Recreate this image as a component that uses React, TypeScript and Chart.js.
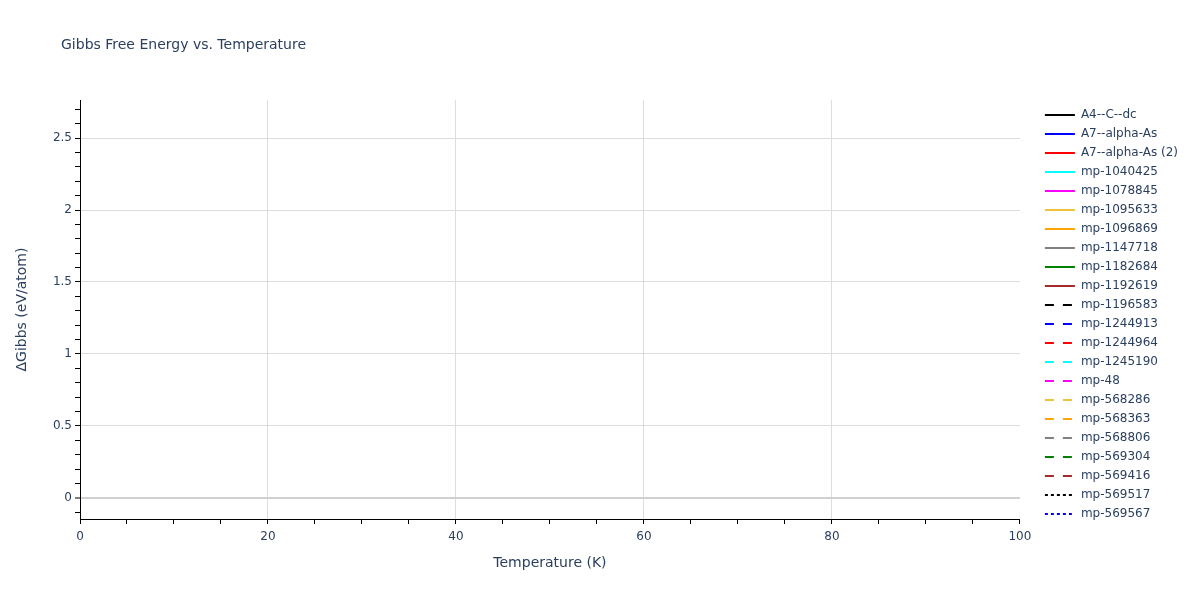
import { useEffect, useRef } from "react"
import { Chart, registerables, type ChartConfiguration, type Plugin } from "chart.js"

Chart.register(...registerables)

const FONT = '"DejaVu Sans", Verdana, sans-serif'
const TEXT = "#2a3f5f"

const chartTitle = "Gibbs Free Energy vs. Temperature"
const xTitle = "Temperature (K)"
const yTitle = "ΔGibbs (eV/atom)"

const seriesNames = [
  "A4--C--dc",
  "A7--alpha-As",
  "A7--alpha-As (2)",
  "mp-1040425",
  "mp-1078845",
  "mp-1095633",
  "mp-1096869",
  "mp-1147718",
  "mp-1182684",
  "mp-1192619",
  "mp-1196583",
  "mp-1244913",
  "mp-1244964",
  "mp-1245190",
  "mp-48",
  "mp-568286",
  "mp-568363",
  "mp-568806",
  "mp-569304",
  "mp-569416",
  "mp-569517",
  "mp-569567",
]

const seriesColors = [
  "#000000", "#0000ff", "#ff0000", "#00ffff", "#ff00ff", "#eec33a", "#ffa500", "#808080", "#008000", "#a52a2a",
  "#000000", "#0000ff", "#ff0000", "#00ffff", "#ff00ff", "#eec33a", "#ffa500", "#808080", "#008000", "#a52a2a",
  "#000000", "#0000ff",
]

const seriesStyles = [
  "solid", "solid", "solid", "solid", "solid", "solid", "solid", "solid", "solid", "solid",
  "dash", "dash", "dash", "dash", "dash", "dash", "dash", "dash", "dash", "dash",
  "dot", "dot",
]

// no points fall inside the visible window of the reference
const seriesPoints: { x: number; y: number }[][] = seriesNames.map(() => [])

const dashes: Record<string, number[]> = { solid: [], dash: [9, 9], dot: [3, 3] }

const isMultiple = (v: number, step: number) => Math.abs(v / step - Math.round(v / step)) < 1e-6

const titlePlugin: Plugin = {
  id: "plotTitle",
  afterDraw(chart) {
    const ctx = chart.ctx
    ctx.save()
    ctx.font = `14px ${FONT}`
    ctx.fillStyle = TEXT
    ctx.textBaseline = "middle"
    ctx.textAlign = "left"
    ctx.fillText(chartTitle, 61, 45)
    ctx.restore()
  },
}

export default function App() {
  const canvasRef = useRef<HTMLCanvasElement>(null)

  useEffect(() => {
    if (!canvasRef.current) return
    const config: ChartConfiguration<"line"> = {
      type: "line",
      data: {
        datasets: seriesNames.map((name, i) => ({
          label: name,
          data: seriesPoints[i],
          borderColor: seriesColors[i],
          backgroundColor: seriesColors[i],
          borderWidth: 2,
          borderDash: dashes[seriesStyles[i]],
          pointRadius: 0,
          fill: false,
        })),
      },
      options: {
        responsive: false,
        animation: false,
        parsing: false,
        layout: { padding: { top: 100, left: 0, right: 12, bottom: 28 } },
        plugins: {
          title: { display: false },
          tooltip: { enabled: false },
          legend: {
            position: "right",
            align: "start",
            title: { display: true, text: "", padding: 0, font: { size: 2, lineHeight: 1 } },
            labels: {
              usePointStyle: true,
              pointStyle: "line",
              pointStyleWidth: 30,
              boxHeight: 12,
              padding: 7,
              color: TEXT,
              font: { family: FONT, size: 12 },
              generateLabels: (chart) =>
                Chart.defaults.plugins.legend.labels.generateLabels(chart).map((item, i) => ({
                  ...item,
                  lineWidth: 2,
                  strokeStyle: seriesColors[i],
                  lineDash: dashes[seriesStyles[i]],
                })),
            },
          },
        },
        scales: {
          x: {
            type: "linear",
            min: 0,
            max: 100,
            afterFit: (s) => {
              s.height = 53
            },
            ticks: {
              stepSize: 5,
              autoSkip: false,
              maxRotation: 0,
              padding: 6,
              color: TEXT,
              font: { family: FONT, size: 12 },
              callback: (v) => (isMultiple(Number(v), 20) ? String(v) : ""),
            },
            grid: {
              color: (c) => {
                const v = c.tick?.value ?? 0
                return isMultiple(v, 20) && v > 0 && v < 100 ? "#dddddd" : "rgba(0,0,0,0)"
              },
              tickColor: "#000000",
              tickLength: 5,
            },
            border: { display: true, color: "#000000", width: 1 },
            title: {
              display: true,
              text: xTitle,
              color: TEXT,
              font: { family: FONT, size: 14 },
              padding: { top: 4, bottom: 0 },
            },
          },
          y: {
            type: "linear",
            min: -0.146,
            max: 2.764,
            afterFit: (s) => {
              s.width = 80
            },
            ticks: {
              stepSize: 0.1,
              includeBounds: false,
              autoSkip: false,
              padding: 3,
              color: TEXT,
              font: { family: FONT, size: 12 },
              callback: (v) => {
                const n = Number(v)
                return isMultiple(n, 0.5) ? String(Math.round(n * 10) / 10) : ""
              },
            },
            grid: {
              color: (c) => {
                const v = c.tick?.value ?? 1
                if (Math.abs(v) < 1e-6) return "#d0d0d0"
                return isMultiple(v, 0.5) ? "#dddddd" : "rgba(0,0,0,0)"
              },
              lineWidth: (c) => (Math.abs(c.tick?.value ?? 1) < 1e-6 ? 2 : 1),
              tickColor: "#000000",
              tickWidth: 1,
              tickLength: 5,
            },
            border: { display: true, color: "#000000", width: 1 },
            title: {
              display: true,
              text: yTitle,
              color: TEXT,
              font: { family: FONT, size: 14 },
              padding: { top: 14, bottom: 0 },
            },
          },
          gap: {
            type: "linear",
            position: "right",
            display: true,
            afterFit: (s) => {
              s.width = 18
            },
            ticks: { display: false },
            grid: { display: false, drawTicks: false },
            border: { display: false },
          },
        },
      },
      plugins: [titlePlugin],
    }
    const chart = new Chart(canvasRef.current, config)
    return () => chart.destroy()
  }, [])

  return (
    <div style={{ position: "absolute", left: 0, top: 0, width: 1200, height: 600, background: "#fff" }}>
      <canvas ref={canvasRef} width={1200} height={600} />
    </div>
  )
}
